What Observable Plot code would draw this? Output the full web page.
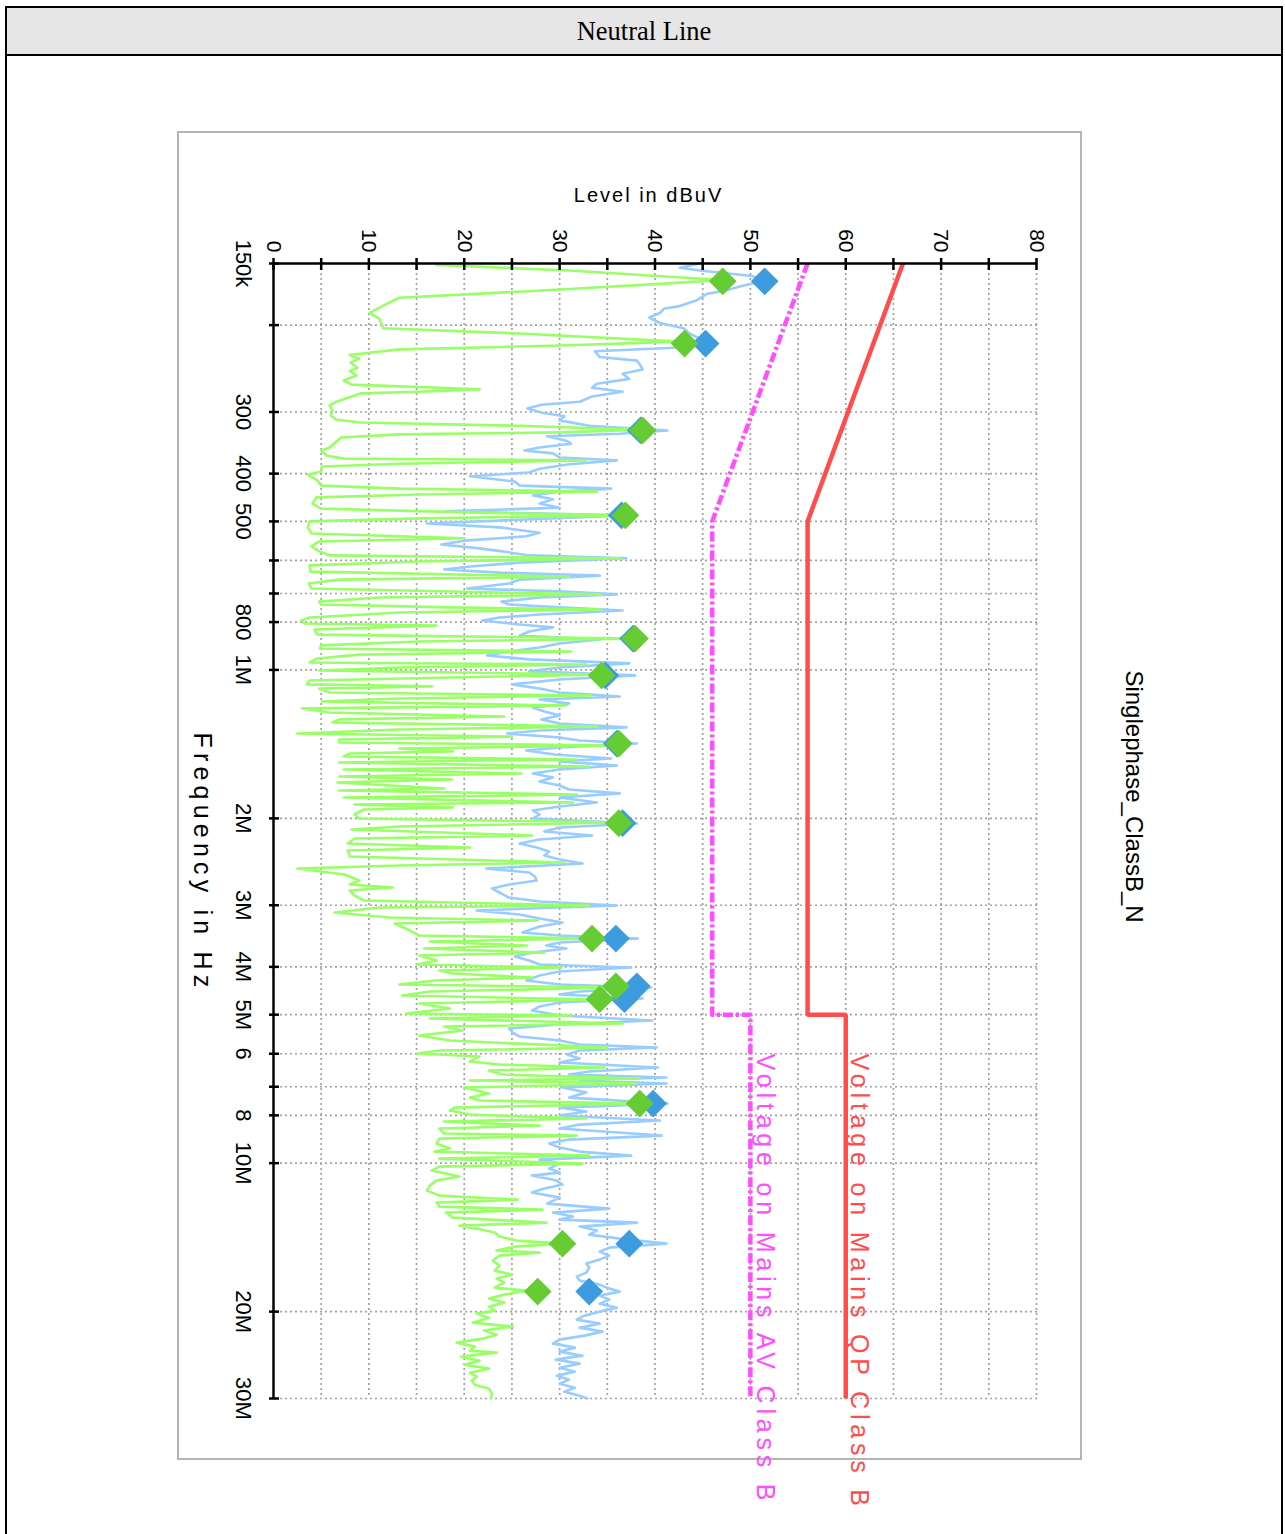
<!DOCTYPE html>
<html><head><meta charset="utf-8">
<script src="https://cdn.jsdelivr.net/npm/d3@7"></script>
<script src="https://cdn.jsdelivr.net/npm/@observablehq/plot@0.6"></script>
<style>
html,body{margin:0;padding:0;background:#fff;overflow:hidden;width:1285px;height:1534px;}
#frame{position:absolute;left:5px;top:6px;width:1278px;height:1600px;border:2px solid #000;box-sizing:border-box;}
#header{position:absolute;left:5px;top:6px;width:1278px;height:50px;background:#e6e6e6;border:2px solid #000;box-sizing:border-box;font-family:"Liberation Serif","Times New Roman",serif;font-size:26.5px;display:flex;align-items:center;justify-content:center;color:#000;}
#box{position:absolute;left:177px;top:131px;width:905px;height:1329px;border:2px solid #b4b4b4;box-sizing:border-box;}
#chart{position:absolute;left:150px;top:131px;width:1403px;height:1030px;transform-origin:0 0;transform:translate(1030px,0) rotate(90deg);}
</style></head>
<body>
<div id="frame"></div>
<div id="header">Neutral Line</div>
<div id="box"></div>
<div id="chart"></div>
<script>
// Frequencies in kHz, levels in dBuV
const greenF = [151,155,162,165,169,176,183,189,194,203,
208,216,220,224,230,234,238,244,248,253,
259,264,268,270,273,275,286,291,298,305,
311,315,320,326,330,333,338,354,359,368,
373,376,382,387,396,402,413,423,429,435,
441,447,460,471,480,486,493,500,514,529,
541,549,562,575,586,594,603,614,632,647,
656,668,684,697,703,713,727,737,747,754,
765,783,794,805,813,820,828,848,864,876,
892,905,918,931,948,966,975,989,1003,1022,
1036,1051,1070,1080,1091,1111,1127,1143,1159,1181,
1197,1220,1243,1260,1278,1302,1321,1346,1365,1384,
1403,1423,1443,1463,1477,1498,1519,1541,1570,1592,
1622,1645,1668,1691,1739,1756,1789,1814,1857,1874,
1901,1919,1964,2001,2039,2077,2106,2166,2197,2249,
2291,2323,2389,2457,2492,2527,2599,2673,2723,2762,
2800,2867,2934,3004,3032,3103,3177,3222,3267,3376,
3455,3504,3553,3621,3671,3741,3794,3883,3957,4012,
4069,4126,4204,4263,4344,4405,4488,4573,4659,4747,
4859,4974,5020,5091,5211,5285,5384,5512,5642,5830,
5912,5995,6080,6223,6311,6400,6490,6613,6737,6801,
6897,7027,7226,7363,7466,7572,7715,7823,7971,8121,
8235,8391,8509,8710,8792,8916,9127,9342,9474,9653,
9789,10020,10161,10353,10647,10848,11104,11366,11635,11854,
12022,12248,12421,12596,12894,13198,13385,13573,13829,14090,
14355,14558,14763,15041,15183,15397,15760,16133,16514,16826,
17142,17465,17880,18131,18473,18821,19176,19538,19906,20187,
20569,21053,21450,21854,22267,22686,23114,23549,23993,24218,
24676,25141,25616,26098,26590,27092,27602,28124,28653,29330,30000];
const greenL = [17.1,31.0,47.0,40.5,31.0,13.2,11.4,10.1,11.1,11.5,
25.8,42.6,30.0,13.2,8.0,9.0,8.1,8.8,8.0,8.7,
7.4,8.2,17.4,21.6,15.3,9.2,6.6,5.9,6.2,6.0,
6.6,9.2,25.8,38.7,30.0,13.2,7.1,5.9,5.0,5.6,
7.4,32.8,13.2,5.1,5.0,3.6,4.6,5.0,13.2,33.9,
15.3,4.5,4.1,5.0,21.6,36.9,15.3,3.8,3.6,4.0,
20.0,4.8,4.0,4.8,5.9,36.3,15.3,3.8,3.9,31.0,
6.9,3.7,4.0,23.7,34.4,11.1,4.8,5.0,18.5,34.2,
13.2,3.8,2.9,3.3,17.1,11.1,4.3,4.6,37.9,15.3,
5.0,4.9,31.2,9.0,4.6,3.8,32.8,13.2,4.8,34.4,
18.5,3.8,3.5,16.6,4.8,5.9,33.3,13.2,5.1,30.7,
3.0,5.9,24.2,6.9,6.2,33.9,13.2,2.5,25.0,6.9,
6.9,36.2,13.2,18.8,8.0,7.4,31.8,6.9,33.1,7.4,
26.0,6.9,18.7,6.7,17.9,6.9,31.8,7.4,31.4,8.5,
18.8,9.5,8.5,9.0,36.2,13.2,8.2,27.1,8.5,7.8,
20.6,7.8,8.0,30.5,13.2,2.5,7.4,9.0,8.0,12.5,
8.0,8.5,9.5,33.1,11.1,6.4,12.2,27.7,12.7,14.3,
15.3,33.4,16.4,26.6,15.8,28.4,15.3,17.1,15.1,30.2,
17.4,18.8,27.1,16.9,13.2,35.9,16.4,13.5,34.2,15.3,
18.5,13.9,31.2,16.4,36.6,17.9,19.8,15.3,18.5,35.0,
17.4,15.1,21.6,20.6,23.7,34.7,22.6,24.0,38.4,20.6,
37.9,20.0,22.6,20.6,21.6,38.4,19.0,18.5,20.6,32.8,
17.9,27.9,17.4,17.9,31.8,17.4,17.1,18.5,16.9,33.1,
17.4,32.4,17.4,16.6,19.5,17.1,16.4,16.1,17.4,25.6,
17.1,17.4,28.2,18.1,18.8,28.6,19.5,21.3,23.2,23.7,
25.5,30.3,25.3,23.4,27.9,23.7,23.0,23.7,23.2,25.0,
23.4,24.2,23.2,26.5,24.2,22.6,24.2,22.6,23.2,21.3,
22.6,20.9,25.1,22.1,23.4,21.9,19.2,21.1,20.6,23.4,
19.7,21.6,20.0,22.6,20.6,21.3,20.8,21.1,22.6,22.9,22.8];

const blueF = [150,153,155,159,163,167,170,173,178,183,
185,189,193,198,203,208,213,218,222,226,
232,236,240,246,251,257,263,268,273,279,
286,290,295,301,306,312,320,327,332,336,
343,348,354,359,364,371,376,383,391,398,
405,415,423,429,435,443,451,460,469,477,
486,496,505,514,527,536,547,557,567,575,
586,594,606,617,626,635,644,656,668,684,
693,703,713,727,737,747,758,772,783,794,
809,820,836,852,868,884,901,918,935,952,
970,989,1007,1026,1046,1070,1091,1111,1132,1148,
1170,1192,1214,1237,1260,1284,1308,1327,1346,1371,
1390,1410,1436,1457,1484,1512,1533,1562,1592,1622,
1652,1683,1715,1748,1780,1814,1857,1892,1927,1964,
2001,2048,2087,2126,2166,2207,2249,2291,2334,2378,
2423,2469,2527,2575,2623,2673,2723,2774,2827,2894,
2948,3004,3046,3075,3133,3192,3252,3313,3407,3455,
3504,3570,3621,3671,3741,3811,3883,3957,4012,4088,
4165,4263,4344,4405,4488,4552,4637,4725,4814,4904,
5020,5139,5236,5334,5435,5538,5642,5749,5830,5912,
6023,6137,6252,6400,6520,6613,6706,6801,6897,7027,
7193,7363,7572,7715,7860,8008,8197,8352,8509,8792,
8958,9127,9299,9474,9653,9835,10020,10256,10450,10598,
10848,11053,11261,11473,11745,12078,12363,12596,12833,13014,
13198,13447,13700,13959,14222,14558,14833,15111,15397,15687,
15983,16285,16669,16983,17303,17630,17962,18215,18560,18909,
19266,19630,19998,20377,20760,21152,21552,21956,22371,22792,
23222,23661,24104,24562,25024,25496,25978,26465,26966,27474,
27992,28521,29056,29606,30000];
const blueL = [44.7,42.6,44.7,50.2,51.2,48.9,47.5,45.4,44.4,42.6,
41.0,40.5,39.4,40.5,43.0,43.6,44.7,45.9,42.6,33.7,
34.2,38.1,38.4,38.7,36.6,37.3,33.9,33.4,36.6,33.4,
32.1,28.1,26.6,28.2,30.5,30.0,33.1,41.3,36.3,28.7,
30.7,31.2,27.9,26.3,29.3,30.0,36.0,31.0,27.9,26.8,
20.6,25.3,25.8,35.4,30.0,27.2,29.3,27.9,30.0,18.1,
36.8,25.8,16.1,23.7,27.9,26.5,20.0,17.6,21.6,24.0,
26.8,37.0,25.8,20.6,17.9,23.7,34.2,25.8,24.7,20.3,
30.0,36.0,27.9,23.9,24.7,30.0,36.6,27.9,23.7,21.9,
25.8,29.3,26.8,25.8,34.2,30.0,27.9,24.7,22.4,26.8,
37.3,30.0,26.8,37.9,30.0,25.0,27.9,30.0,36.3,27.9,
31.0,27.2,28.4,30.0,28.1,30.0,37.0,27.9,24.5,30.0,
32.1,38.1,30.0,26.5,29.5,35.4,30.0,36.0,30.0,27.2,
29.3,27.9,30.0,31.0,36.3,30.0,33.9,30.0,27.2,27.9,
27.2,38.1,30.0,28.4,33.4,27.9,25.8,27.6,28.9,28.4,
30.0,32.4,22.3,26.8,27.4,27.6,24.7,22.9,23.7,24.7,
27.9,36.0,26.8,21.3,25.8,27.9,30.3,27.9,26.1,30.0,
38.2,30.0,28.6,30.7,27.2,25.3,26.8,27.9,37.5,30.0,
27.9,26.5,30.0,39.6,32.1,30.0,38.7,30.0,27.9,27.1,
30.0,39.7,30.0,24.7,25.1,25.8,30.0,32.1,40.2,32.1,
30.8,32.1,30.0,40.3,33.1,31.0,41.2,32.1,41.2,30.3,
32.8,31.0,41.3,30.0,32.8,30.0,40.5,32.1,30.0,40.7,
31.0,28.9,30.0,32.1,37.5,27.9,30.0,28.9,30.0,27.1,
29.7,30.3,28.4,27.1,30.0,28.7,35.2,29.3,31.4,30.0,
38.1,32.1,33.9,33.1,36.3,41.2,35.2,34.2,35.2,34.2,
32.8,33.1,32.8,31.8,32.1,34.2,35.2,36.3,34.2,35.2,
34.2,36.0,34.2,32.6,31.8,34.2,32.1,34.5,32.6,30.0,
29.3,31.6,30.0,32.4,29.6,32.1,30.0,31.6,29.7,31.0,
30.0,31.6,30.5,32.1,32.9];

// Final measurement markers
const markF     = [163,218,327,486,864,1026,1410,2045,3504,4380,4650,7572,14560,18210];
const blueMarkL = [51.5,45.3,38.5,36.5,37.7,34.8,36.0,36.6,35.9,38.1,36.8,39.8,37.3,33.1];
const greenMarkL= [47.1,43.1,38.7,36.9,37.9,34.4,36.2,36.2,33.4,35.9,34.2,38.4,30.3,27.7];

// Limit lines
const limitF  = [150,500,5000,5000,30000];
const qpLimit = [66,56,56,60,60];
const avLimit = [56,46,46,50,50];

// Axis ticks
const freqTicks    = [150,200,300,400,500,600,700,800,1000,2000,3000,4000,5000,6000,7000,8000,10000,20000,30000];
const freqTickText = ["150k","","300","400","500","","","800","1M","2M","3M","4M","5M","6","","8","10M","20M","30M"];
const levelTicks   = [0,5,10,15,20,25,30,35,40,45,50,55,60,65,70,75,80];

const titleText = "Singlephase_ClassB_N";
const xLabel = "Frequency in Hz";
const yLabel = "Level in dBuV";
const qpLabel = "Voltage on Mains QP Class B";
const avLabel = "Voltage on Mains AV Class B";
const labelF = 6000;

const green = greenF.map((f,i)=>({f, L: greenL[i]}));
const blue  = blueF.map((f,i)=>({f, L: blueL[i]}));
const blueMarks  = markF.map((f,i)=>({f, L: blueMarkL[i]}));
const greenMarks = markF.map((f,i)=>({f, L: greenMarkL[i]}));
const qp = limitF.map((f,i)=>({f, L: qpLimit[i]}));
const av = limitF.map((f,i)=>({f, L: avLimit[i]}));
const freqLabels = freqTicks.map((f,i)=>({f, t: freqTickText[i]}));
const limitLabels = [{f: labelF, L: qpLimit[4], t: qpLabel}, {f: labelF, L: avLimit[4], t: avLabel}];

const gridStyle = {stroke:"#a2a2a2", strokeOpacity:1, strokeWidth:1.7, strokeDasharray:"2,3"};

const chart = Plot.plot({
  width: 1403, height: 1030,
  marginLeft: 132, marginRight: 136, marginTop: 143, marginBottom: 124,
  x: {type: "log", domain: [150, 30000]},
  y: {domain: [0, 80]},
  style: {background:"transparent", overflow:"visible", maxWidth:"none", fontFamily:"'Liberation Sans', Arial, sans-serif", fontSize:"21px", color:"#000"},
  marks: [
    Plot.gridX({ticks: freqTicks.slice(1), ...gridStyle}),
    Plot.gridY({ticks: levelTicks.slice(1), ...gridStyle}),
    Plot.line(blue, {x:"f", y:"L", stroke:"#99ccff", strokeWidth:2.6}),
    Plot.line(green, {x:"f", y:"L", stroke:"#99ff66", strokeWidth:2.6}),
    Plot.line(qp, {x:"f", y:"L", stroke:"#ff4d4d", strokeWidth:4.5, strokeLinejoin:"miter", strokeLinecap:"butt"}),
    Plot.line(av, {x:"f", y:"L", stroke:"#ff4dff", strokeWidth:4.5, strokeDasharray:"10,3,3,3", strokeLinecap:"butt"}),
    Plot.ruleX([150], {stroke:"#000", strokeWidth:2.5}),
    Plot.ruleY([0], {stroke:"#000", strokeWidth:2.5}),
    Plot.axisX({ticks: freqTicks, tickSize:5, strokeWidth:2.5, label:null, tickFormat: () => ""}),
    Plot.axisX({ticks: freqTicks, tickSize:-5, strokeWidth:2.5, label:null, tickFormat: () => ""}),
    Plot.text(freqLabels, {x:"f", text:"t", frameAnchor:"bottom", lineAnchor:"top", dy:22, fontSize:22}),
    Plot.axisY({ticks: levelTicks, tickSize:5, tickPadding:6, strokeWidth:2.5, label:null, fontSize:21,
      tickFormat: d => d % 10 === 0 ? String(d) : ""}),
    Plot.axisY({ticks: levelTicks, tickSize:-7, strokeWidth:2.5, label:null, tickFormat: () => ""}),
    Plot.dot(blueMarks, {x:"f", y:"L", symbol:"diamond2", r:12.5, fill:"#3d9be0"}),
    Plot.dot(greenMarks, {x:"f", y:"L", symbol:"diamond2", r:12.5, fill:"#66cc33"}),
    Plot.text([titleText], {frameAnchor:"top", dx:-34.5, dy:-97, lineAnchor:"middle", fontSize:24}),
    Plot.text([yLabel], {frameAnchor:"left", textAnchor:"middle", dx:-68, dy:6.5, rotate:-90, lineAnchor:"middle", fontSize:20}),
    Plot.text([xLabel], {frameAnchor:"bottom", textAnchor:"middle", dx:31.5, dy:72, lineAnchor:"middle", fontSize:25}),
    Plot.text(limitLabels.slice(0,1), {x:"f", y:"L", text:"t", textAnchor:"start", lineAnchor:"bottom", dy:-5, fill:"#ff4d4d", fontSize:25}),
    Plot.text(limitLabels.slice(1), {x:"f", y:"L", text:"t", textAnchor:"start", lineAnchor:"bottom", dy:-7, fill:"#ff4dff", fontSize:25})
  ]
});
document.getElementById("chart").appendChild(chart);
chart.querySelectorAll("text").forEach(t => {
  const s = t.textContent;
  if (s === qpLabel || s === avLabel) t.setAttribute("letter-spacing", "4.8");
  else if (s === xLabel) t.setAttribute("letter-spacing", "5.2");
  else if (s === yLabel) t.setAttribute("letter-spacing", "2");
});
</script>
</body></html>
